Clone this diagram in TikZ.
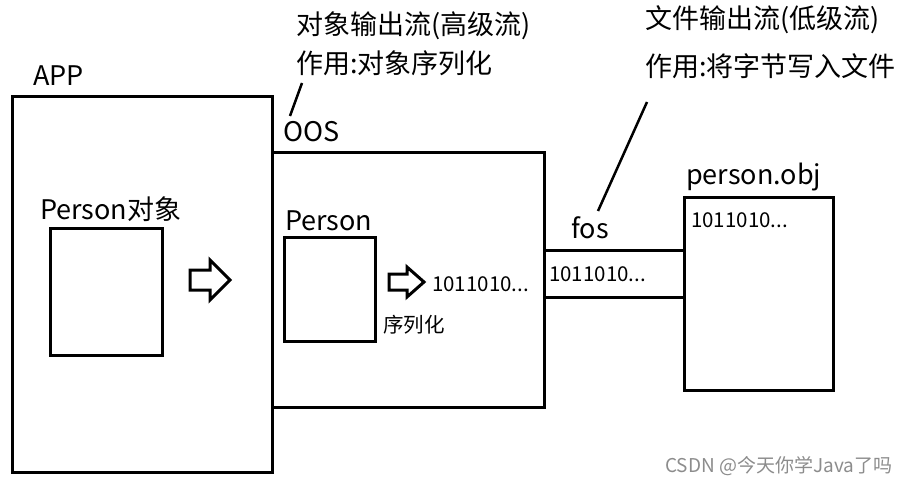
\documentclass[tikz,border=0pt]{standalone}
\usepackage{fontspec}
\setmainfont{Noto Sans CJK SC}
\begin{document}
\begin{tikzpicture}[x=1pt,y=-1pt,
  box/.style={draw=black,line width=3pt},
  lbl/.style={anchor=west,inner sep=0pt,font=\fontsize{27}{30}\selectfont},
  small/.style={anchor=west,inner sep=0pt,font=\fontsize{20.5}{23}\selectfont},
  lead/.style={draw=black,line width=2.5pt},
  harrow/.style={draw=black,line width=3pt,fill=white,line join=miter}]
\useasboundingbox (0,0) rectangle (910,487);
% boxes
\draw[box] (12,96) rectangle (272,472);
\draw[box] (50,228) rectangle (162,355);
\draw[box] (272,152) rectangle (544,407);
\draw[box] (284,237) rectangle (375,341);
\draw[box] (544,250) -- (684,250);
\draw[box] (544,297) -- (684,297);
\draw[box] (684,197) rectangle (833,390);
% hollow arrows
\draw[harrow] (190,270) -- (210,270) -- (210,260) -- (230,280) -- (210,300) -- (210,290) -- (190,290) -- cycle;
\draw[harrow] (389,274) -- (407,274) -- (407,267) -- (424,282) -- (407,297) -- (407,290) -- (389,290) -- cycle;
% labels
\node[lbl] (app) at (33,76) {APP};
\node[lbl] (personobj) at (40,209) {Person对象};
\node[lbl] (oos) at (283,132) {OOS};
\node[lbl] (person) at (285,221) {Person};
\node[lbl] (fos) at (571,228) {fos};
\node[lbl] (file) at (686,177) {person.obj};
\node[small] (bin1) at (432,284) {1011010...};
\node[small] (ser) at (383,325) {序列化};
\node[small] (bin2) at (549,274) {1011010...};
\node[small] (bin3) at (691,220) {1011010...};
\node[lbl] (t1) at (296,26) {对象输出流(高级流)};
\node[lbl] (t2) at (296,63) {作用:对象序列化};
\node[lbl] (t3) at (645,20) {文件输出流(低级流)};
\node[lbl] (t4) at (645,66) {作用:将字节写入文件};
\node[anchor=west,inner sep=0pt,text=black!45,font=\fontsize{19}{21}\selectfont] (wm) at (665,466) {CSDN @今天你学Java了吗};
% leaders
\coordinate (l1a) at (290,116);
\coordinate (l1b) at (302,83);
\coordinate (l2a) at (598,211);
\coordinate (l2b) at (647,102);
\draw[lead] (l1a) -- (l1b);
\draw[lead] (l2a) -- (l2b);
\end{tikzpicture}
\end{document}
